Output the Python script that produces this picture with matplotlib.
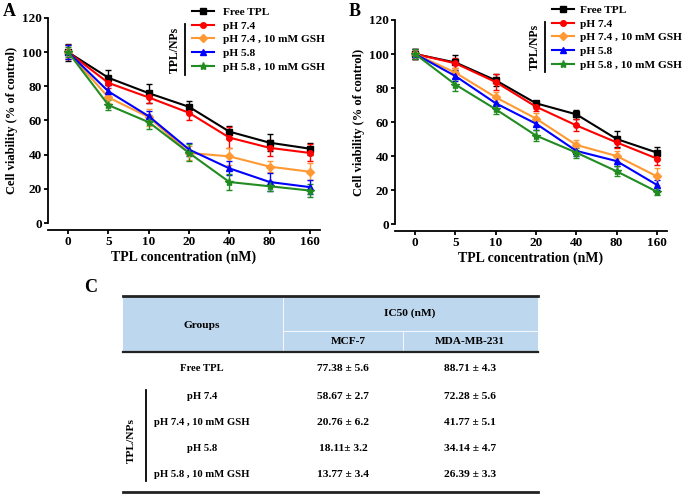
import numpy as np
import matplotlib
matplotlib.use('Agg')
import matplotlib.pyplot as plt
from matplotlib.lines import Line2D
from matplotlib.patches import Rectangle

plt.rcParams['font.family'] = ['Liberation Serif', 'DejaVu Serif']
plt.rcParams['font.weight'] = 'bold'

conc_labels = ['0', '5', '10', '20', '40', '80', '160']
series_names = ['Free TPL', 'pH 7.4', 'pH 7.4 , 10 mM GSH', 'pH 5.8', 'pH 5.8 , 10 mM GSH']
colors = ['#000000', '#FF0000', '#FF9933', '#0000FF', '#228B22']
markers = ['s', 'o', 'D', '^', '*']

# panel A (MCF-7)
a_free = [100, 85, 76, 68, 53.5, 47, 43.5]
a_74 = [100, 82, 73.5, 64.5, 50, 44, 41]
a_74g = [100, 73.5, 62, 41, 39, 33, 30]
a_58 = [100, 77, 62.5, 43, 32, 24, 21]
a_58g = [100, 69, 59, 41, 24, 21.5, 19]
a_free_err = [5, 4.5, 5.5, 3.5, 3.5, 5, 3.5]
a_74_err = [4, 3, 3, 4.5, 6, 4.5, 5]
a_74g_err = [4, 3, 5, 4, 5, 3, 5]
a_58_err = [4, 4, 3, 4, 4, 5, 4]
a_58g_err = [3, 3, 4, 5, 4.5, 3, 4]

# panel B (MDA-MB-231)
b_free = [100, 95, 84.5, 71, 64.5, 50, 42]
b_74 = [100, 94.5, 83.5, 69, 58, 48, 38.5]
b_74g = [100, 89, 74.5, 62, 46.5, 40, 28]
b_58 = [100, 87, 71, 59, 43, 37, 23]
b_58g = [100, 82, 67.5, 52, 42, 31, 19]
b_free_err = [3, 4.5, 3.5, 1.5, 2.5, 4.5, 3.5]
b_74_err = [3, 3, 4.5, 2.5, 3.5, 3, 3.5]
b_74g_err = [3, 3, 3, 3.5, 3, 3, 5]
b_58_err = [3, 3, 3.5, 3.5, 3, 3, 3]
b_58g_err = [3, 3.5, 3, 3, 3, 3, 2]

# table C
table_groups = ['Free TPL', 'pH 7.4', 'pH 7.4 , 10 mM GSH', 'pH 5.8', 'pH 5.8 , 10 mM GSH']
ic50_mcf7 = ['77.38 \u00b1 5.6', '58.67 \u00b1 2.7', '20.76 \u00b1 6.2', '18.11\u00b1 3.2', '13.77 \u00b1 3.4']
ic50_mda = ['88.71 \u00b1 4.3', '72.28 \u00b1 5.6', '41.77 \u00b1 5.1', '34.14 \u00b1 4.7', '26.39 \u00b1 3.3']

W, H = 685, 494
fig = plt.figure(figsize=(W / 100, H / 100), dpi=100)


def draw_panel(rect, vals, errs, leg_x, leg_top, pad):
	ax = fig.add_axes(rect)
	x = np.arange(len(conc_labels))
	for v, e, c, m, n in zip(vals, errs, colors, markers, series_names):
		ms = 6 if m == '*' else 4
		ax.errorbar(x, v, yerr=e, color=c, marker=m, ms=ms, lw=1.5,
			capsize=2, elinewidth=1, capthick=1, label=n)
	ax.set_xlim(-0.5, 6.25)
	ax.set_ylim(0, 120)
	ax.set_yticks(range(0, 121, 20))
	ax.set_xticks(x)
	ax.set_xticklabels(conc_labels)
	for s in ['top', 'right']:
		ax.spines[s].set_visible(False)
	ax.spines['bottom'].set_position(('outward', 5))
	ax.spines['left'].set_linewidth(1.3)
	ax.spines['bottom'].set_linewidth(1.3)
	ax.tick_params(labelsize=9.5, width=1.3, length=3, pad=1.5)
	for t in ax.get_xticklabels() + ax.get_yticklabels():
		t.set_fontweight('bold')
	ax.set_xlabel('TPL concentration (nM)', fontsize=10, fontweight='bold', labelpad=2)
	ax.set_ylabel('Cell viability (% of control)', fontsize=9, fontweight='bold', labelpad=3)
	handles = [Line2D([], [], color=c, marker=m, ms=(6 if m == '*' else 4), lw=1.5)
		for c, m in zip(colors, markers)]
	ax.legend(handles, series_names, loc='upper left',
		bbox_to_anchor=(leg_x / W, 1 - leg_top / H), bbox_transform=fig.transFigure,
		frameon=False, handlelength=1.9, handletextpad=pad,
		labelspacing=0.33, borderpad=0, borderaxespad=0,
		prop={'weight': 'bold', 'size': 8.2})
	return ax


axA = draw_panel([48 / W, 1 - 223 / H, 272 / W, 205 / H],
	[a_free, a_74, a_74g, a_58, a_58g],
	[a_free_err, a_74_err, a_74g_err, a_58_err, a_58g_err], 192, 7, 0.8)
axB = draw_panel([395 / W, 1 - 224 / H, 272 / W, 204 / H],
	[b_free, b_74, b_74g, b_58, b_58g],
	[b_free_err, b_74_err, b_74g_err, b_58_err, b_58g_err], 552, 5, 0.6)

# overlay axes in pixel coords for letters, legend brackets and the table
ov = fig.add_axes([0, 0, 1, 1], zorder=5)
ov.set_xlim(0, W)
ov.set_ylim(H, 0)
ov.axis('off')

for xp, y0, y1 in [(185, 24, 75), (545, 22, 72)]:
	ov.plot([xp, xp], [y0, y1], color='k', lw=1.3)
	ov.text(xp - 10, (y0 + y1) / 2, 'TPL/NPs', rotation=90, ha='center', va='center',
		fontsize=8.5, fontweight='bold')
ov.text(3, 12, 'A', fontsize=13, fontweight='bold', va='center')
ov.text(349, 11, 'B', fontsize=13, fontweight='bold', va='center')
ov.text(84, 287, 'C', fontsize=13, fontweight='bold', va='center')

# table
tx0, tx1 = 123, 538
ov.add_patch(Rectangle((tx0, 296), tx1 - tx0, 56, color='#BDD7EE', lw=0))
ov.plot([283, 283], [296, 352], color='white', lw=0.6)
ov.plot([403, 403], [331, 352], color='white', lw=0.6)
ov.plot([283, tx1], [331, 331], color='white', lw=0.6)
ov.plot([tx0, tx1], [296, 296], color='#222222', lw=2)
ov.plot([tx0, tx1], [352, 352], color='#222222', lw=1.6)
ov.plot([tx0, tx1], [492, 492], color='#222222', lw=2)

fs = 8.2
ov.text(202, 325, 'Groups', ha='center', va='center', fontsize=fs, fontweight='bold')
ov.text(410, 313, 'IC50 (nM)', ha='center', va='center', fontsize=fs, fontweight='bold')
ov.text(348, 341, 'MCF-7', ha='center', va='center', fontsize=fs, fontweight='bold')
ov.text(470, 341, 'MDA-MB-231', ha='center', va='center', fontsize=fs, fontweight='bold')
row_y = [368, 396, 422, 448, 474]
for ry, g, m1, m2 in zip(row_y, table_groups, ic50_mcf7, ic50_mda):
	ov.text(202, ry, g, ha='center', va='center', fontsize=7.7, fontweight='bold')
	ov.text(343, ry, m1, ha='center', va='center', fontsize=fs, fontweight='bold')
	ov.text(470, ry, m2, ha='center', va='center', fontsize=fs, fontweight='bold')
ov.plot([146, 146], [390, 481], color='k', lw=1.3)
ov.text(131, 440, 'TPL/NPs', rotation=90, ha='center', va='center', fontsize=fs, fontweight='bold')

fig.savefig('out.png', dpi=100)
